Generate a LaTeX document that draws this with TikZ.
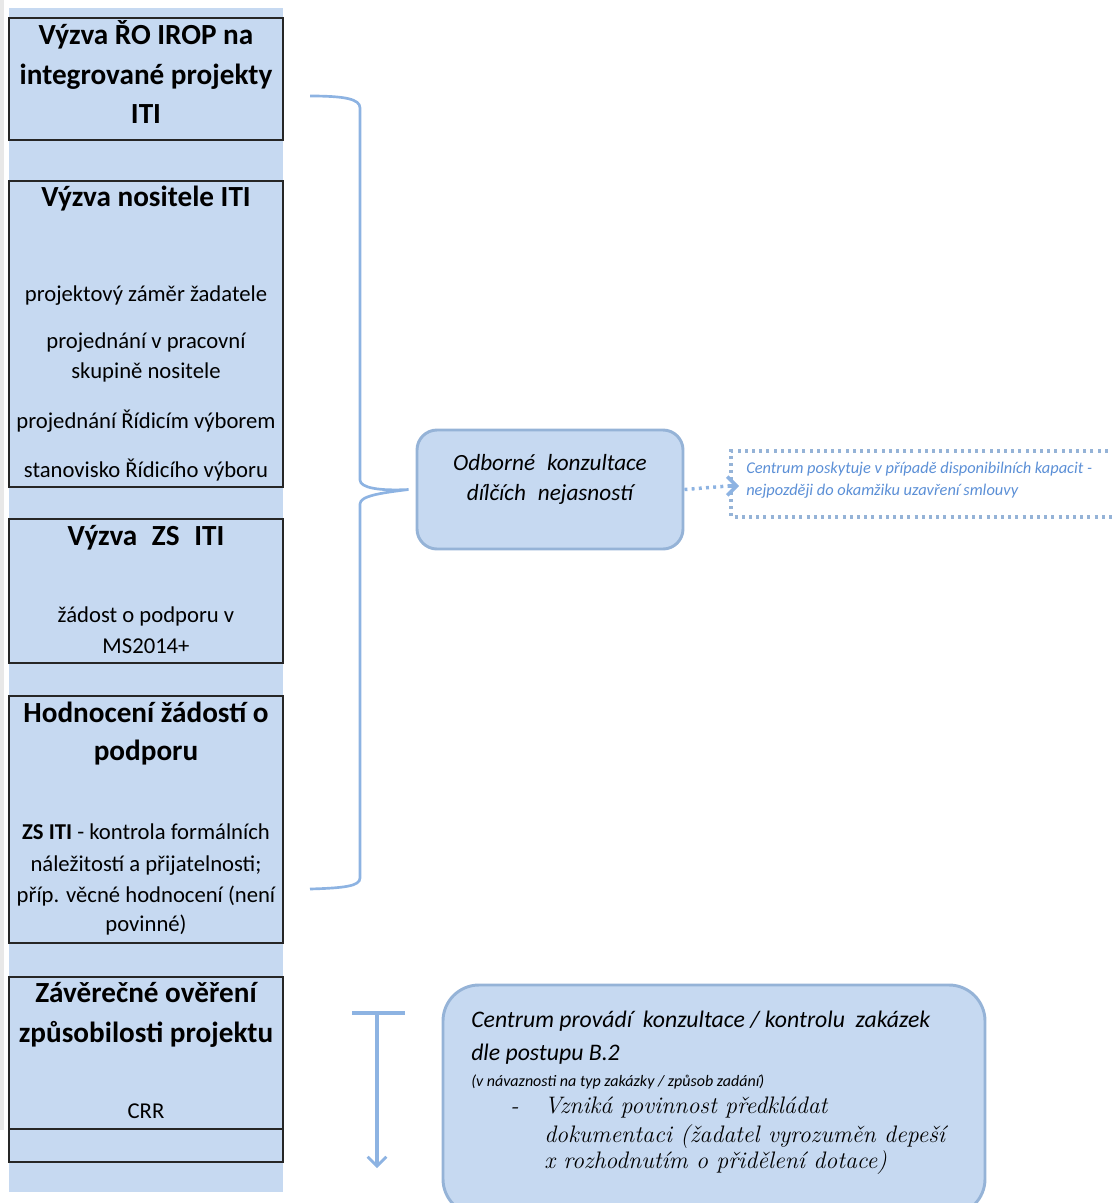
\documentclass[tikz,border=0pt]{standalone}
\usepackage{fontspec}
\setmainfont{Carlito}
\newfontfamily\serifit{Latin Modern Roman}
\usetikzlibrary{arrows.meta}
\definecolor{bfill}{HTML}{C6D9F1}
\definecolor{bline}{HTML}{8DB3E2}
\definecolor{bedge}{HTML}{95B3D7}
\definecolor{dtxt}{HTML}{5B8FD6}
\definecolor{gstrip}{HTML}{E8E8E8}
\tikzset{
  colbox/.style={draw=black!85, line width=1.1pt, minimum width=205.5pt, inner sep=0pt},
  hd/.style={anchor=base, inner sep=0pt, font=\fontsize{21.9}{25}\selectfont\bfseries},
  bd/.style={anchor=base, inner sep=0pt, font=\fontsize{17}{20}\selectfont},
  it/.style={anchor=base west, inner sep=0pt, font=\fontsize{17.8}{20}\selectfont\itshape},
  sit/.style={anchor=base west, inner sep=0pt, font=\fontsize{17.9}{20}\serifit\itshape},
  bluearrow/.style={draw=bline, line width=2.4pt},
}
\begin{document}
\begin{tikzpicture}[x=0.75pt,y=-0.75pt]
\useasboundingbox (0,0) rectangle (1111,1203);
% strips
\fill[gstrip] (0,0) rectangle (4,1130);
\fill[bfill] (9,8) rectangle (283,1192);
% left column boxes
\node[colbox, minimum height=91.5pt] (b1) at (146,79) {};
\node[colbox, minimum height=229.5pt] (b2) at (146,334) {};
\node[colbox, minimum height=108pt] (b3) at (146,591) {};
\node[colbox, minimum height=185.25pt] (b4) at (146,819.5) {};
\node[colbox, minimum height=114pt] (b5) at (146,1053) {};
\node[colbox, minimum height=24.75pt] (b6) at (146,1145.5) {};
% box 1
\node[hd] (t1a) at (146,44) {Výzva ŘO IROP na};
\node[hd] (t1b) at (146,84) {integrované projekty};
\node[hd] (t1c) at (146,123) {ITI};
% box 2
\node[hd] (t2a) at (146,206) {Výzva nositele ITI};
\node[bd] (t2b) at (146,301) {projektový záměr žadatele};
\node[bd] (t2c) at (146,348) {projednání v pracovní};
\node[bd] (t2d) at (146,378) {skupině nositele};
\node[bd] (t2e) at (146,428) {projednání Řídicím výborem};
\node[bd] (t2f) at (146,477) {stanovisko Řídicího výboru};
% box 3
\node[hd] (t3a) at (146,545) {Výzva\hspace{6pt} ZS\hspace{6pt} ITI};
\node[bd] (t3b) at (146,622) {žádost o podporu v};
\node[bd] (t3c) at (146,653) {MS2014+};
% box 4
\node[hd] (t4a) at (146,722) {Hodnocení žádostí o};
\node[hd] (t4b) at (146,760) {podporu};
\node[bd] (t4c) at (146,839) {\textbf{ZS ITI} - kontrola formálních};
\node[bd] (t4d) at (146,871) {náležitostí a přijatelnosti;};
\node[bd] (t4e) at (146,902) {příp. věcné hodnocení (není};
\node[bd] (t4f) at (146,931) {povinné)};
% box 5
\node[hd] (t5a) at (146,1002) {Závěrečné ověření};
\node[hd] (t5b) at (146,1042) {způsobilosti projektu};
\node[bd] (t5c) at (146,1118) {CRR};
% Odborne konzultace
\node[draw=bedge, fill=bfill, line width=2.2pt, rounded corners=15pt,
  minimum width=199.5pt, minimum height=89.25pt] (odb) at (550,489.5) {};
\node[anchor=base, inner sep=0pt, font=\fontsize{17.4}{20}\selectfont\itshape] (odba) at (550,470) {Odborné\hspace{5pt} konzultace};
\node[anchor=base, inner sep=0pt, font=\fontsize{17.4}{20}\selectfont\itshape] (odbb) at (550,500) {dílčích\hspace{5pt} nejasností};
% brace
\coordinate (btip) at ([xshift=-5.25pt]odb.west);
\draw[bluearrow, line width=2pt] (310,96) .. controls (345,96) and (360,99) .. (360,108)
  -- (360,480) .. controls (360,488) and (380,491) .. (btip)
  .. controls (380,493) and (360,496) .. (360,504)
  -- (360,878) .. controls (360,886) and (345,888) .. (310,889);
% dotted box
\draw[draw=bedge, line width=2.6pt, dash pattern=on 2.2pt off 3.2pt] (1115,451) -- (731,451) -- (731,517) -- (1115,517);
\coordinate (dotl) at (739,486);
\coordinate (dotm) at (728,486);
\draw[bluearrow, line width=2.6pt, dash pattern=on 2.2pt off 3.2pt] (odb.east) -- (dotm);
\draw[bluearrow, line width=2.6pt, -{Straight Barb[length=7pt,width=14pt,line width=2.6pt]}] (dotm) -- (dotl);
\node[anchor=base west, inner sep=0pt, text=dtxt, font=\fontsize{12.3}{13}\selectfont\itshape] (dta) at (746,473) {Centrum poskytuje v případě disponibilních kapacit -};
\node[anchor=base west, inner sep=0pt, text=dtxt, font=\fontsize{12.3}{13}\selectfont\itshape] (dtb) at (746,495) {nejpozději do okamžiku uzavření smlouvy};
% T arrow
\coordinate (tl) at (352,1013);
\coordinate (tr) at (405,1013);
\coordinate (tm) at (377,1013);
\coordinate (tb) at (377,1168);
\draw[bluearrow] (tl) -- (tr);
\draw[bluearrow, -{Straight Barb[length=7pt,width=14pt,line width=2pt]}] (tm) -- (tb);
% bottom box
\node[draw=bedge, fill=bfill, line width=2.2pt, rounded corners=27pt,
  minimum width=406.5pt, minimum height=172.5pt] (bot) at (714,1100) {};
\node[it] (bta) at (471,1027) {Centrum provádí\hspace{4pt} konzultace / kontrolu\hspace{4pt} zakázek};
\node[it] (btb) at (471,1060) {dle postupu B.2};
\node[anchor=base west, inner sep=0pt, font=\fontsize{12}{13}\selectfont\itshape] (btc) at (471,1086) {(v návaznosti na typ zakázky / způsob zadání)};
\node[sit] (btd) at (510,1113) {-};
\node[sit] (bte) at (544,1113) {Vzniká povinnost předkládat};
\node[sit] (btf) at (544,1142) {dokumentaci (žadatel vyrozuměn depeší};
\node[sit] (btg) at (544,1168) {x rozhodnutím o přidělení dotace)};
\end{tikzpicture}
\end{document}
